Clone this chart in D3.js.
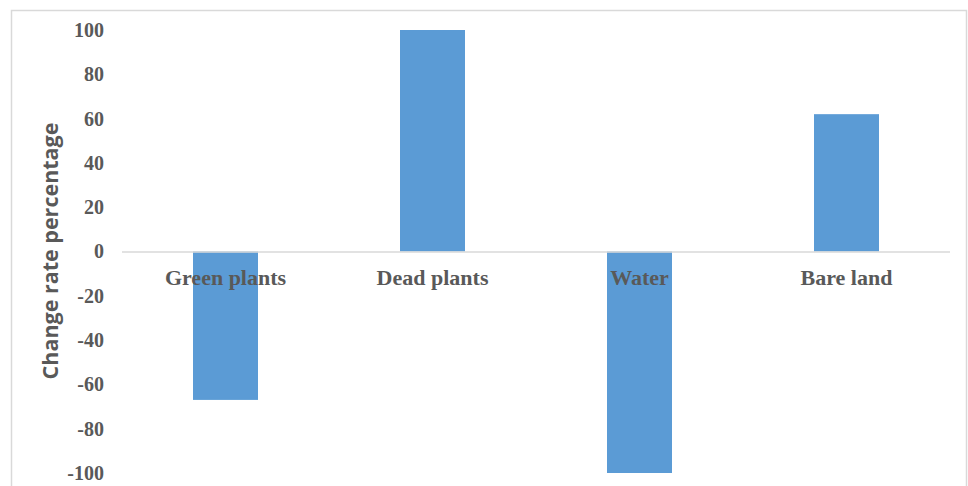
<!DOCTYPE html>
<html>
<head>
<meta charset="utf-8">
<script src="https://cdn.jsdelivr.net/npm/d3@7"></script>
<style>
  html, body { margin: 0; padding: 0; background: #fff; }
  svg { display: block; }
</style>
</head>
<body>
<svg id="chart" width="968" height="486"></svg>
<script>
// Land-cover change rates (%)
const categories = ["Green plants", "Dead plants", "Water", "Bare land"];
const changeRates = [-67, 100, -100, 62];
const yTicks = [100, 80, 60, 40, 20, 0, -20, -40, -60, -80, -100];

const svg = d3.select("#chart");
const plot = { left: 122, right: 950, top: 30, bottom: 473 };

// chart frame
svg.append("rect")
  .attr("x", 11.5).attr("y", 10.5)
  .attr("width", 955).attr("height", 490)
  .attr("fill", "#fff").attr("stroke", "#d9d9d9").attr("stroke-width", 1.5);

const x = d3.scaleBand()
  .domain(categories)
  .range([plot.left, plot.right])
  .paddingInner(0.686).paddingOuter(0.343);

const y = d3.scaleLinear()
  .domain([-100, 100])
  .range([plot.bottom, plot.top]);

// value axis labels (plain hyphen for negatives)
const yAxis = d3.axisLeft(y).tickValues(yTicks).tickSize(0).tickPadding(0)
  .tickFormat(d => String(d));
const gy = svg.append("g")
  .attr("transform", `translate(104,0)`)
  .call(yAxis);
gy.select(".domain").remove();
gy.selectAll("text")
  .attr("font-family", "'Liberation Serif', 'Times New Roman', serif")
  .attr("font-weight", "bold")
  .attr("font-size", 20)
  .attr("fill", "#595959");

// bars
svg.append("g").selectAll("rect")
  .data(categories)
  .join("rect")
  .attr("x", d => x(d))
  .attr("width", x.bandwidth())
  .attr("y", (d, i) => y(Math.max(0, changeRates[i])))
  .attr("height", (d, i) => Math.abs(y(changeRates[i]) - y(0)))
  .attr("fill", "#5b9bd5");

// zero baseline
svg.append("line")
  .attr("x1", plot.left).attr("x2", plot.right)
  .attr("y1", y(0) + 0.5).attr("y2", y(0) + 0.5)
  .attr("stroke", "#d9d9d9").attr("stroke-width", 1.5);

// category labels sit just under the zero line
const xAxis = d3.axisBottom(x).tickSize(0).tickPadding(0);
const gx = svg.append("g")
  .attr("transform", `translate(0,${y(0) + 18})`)
  .call(xAxis);
gx.select(".domain").remove();
gx.selectAll("text")
  .attr("font-family", "'Liberation Serif', 'Times New Roman', serif")
  .attr("font-weight", "bold")
  .attr("font-size", 22)
  .attr("fill", "#595959");

// value axis title
svg.append("text")
  .attr("transform", `translate(58,251) rotate(-90)`)
  .attr("text-anchor", "middle")
  .attr("font-family", "'Open Sans', 'Noto Sans', sans-serif")
  .attr("font-weight", "bold")
  .attr("font-size", 21.5)
  .attr("fill", "#595959")
  .text("Change rate percentage");
</script>
</body>
</html>
